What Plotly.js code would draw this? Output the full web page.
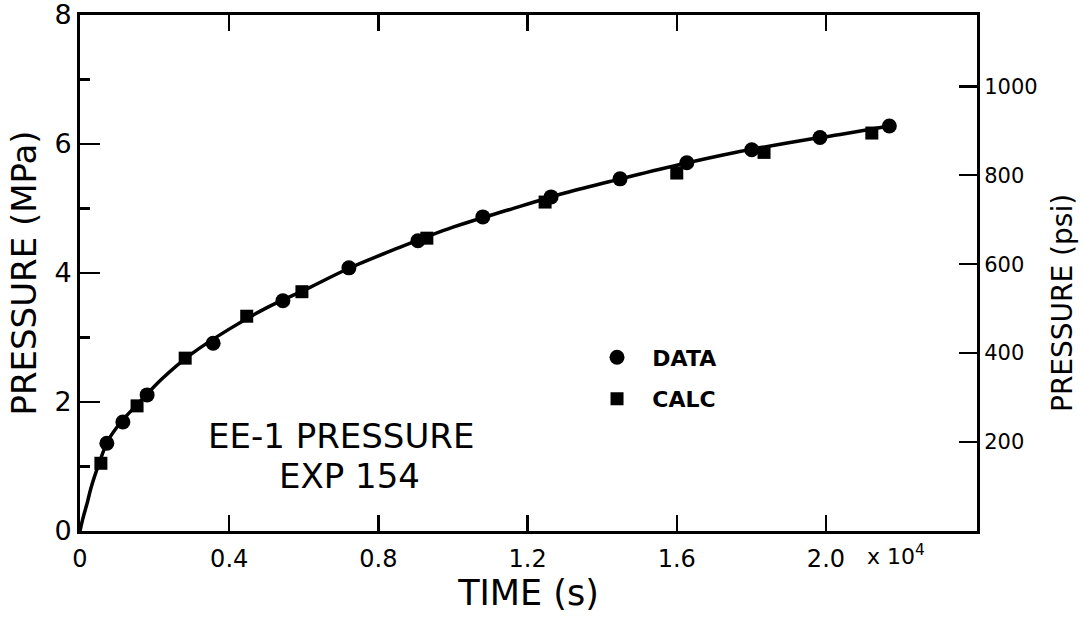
<!DOCTYPE html>
<html>
<head>
<meta charset="utf-8">
<script src="https://cdn.plot.ly/plotly-3.0.1.min.js"></script>
<style>html,body{margin:0;padding:0;background:#fff;}#chart{width:1084px;height:617px;}</style>
</head>
<body>
<div id="chart"></div>
<script>
// Fitted curve (time in 10^4 s, pressure in MPa)
const curveTime = [0, 0.008, 0.02, 0.03, 0.05, 0.075, 0.11, 0.16, 0.22, 0.3, 0.4, 0.5, 0.6, 0.72, 0.85, 1.0, 1.15, 1.3, 1.45, 1.6, 1.75, 1.9, 2.05, 2.17];
const curvePressure = [0, 0.2, 0.45, 0.68, 1.03, 1.4, 1.69, 2.0, 2.36, 2.75, 3.13, 3.46, 3.73, 4.07, 4.38, 4.71, 4.98, 5.24, 5.46, 5.67, 5.86, 6.02, 6.16, 6.28];
// DATA points
const dataTime = [0.072, 0.115, 0.18, 0.357, 0.544, 0.721, 0.906, 1.080, 1.263, 1.448, 1.627, 1.801, 1.984, 2.170];
const dataPressure = [1.36, 1.69, 2.11, 2.91, 3.57, 4.08, 4.50, 4.87, 5.18, 5.46, 5.71, 5.91, 6.10, 6.28];
// CALC points
const calcTime = [0.056, 0.153, 0.282, 0.447, 0.595, 0.930, 1.247, 1.600, 1.834, 2.123];
const calcPressure = [1.05, 1.94, 2.68, 3.33, 3.71, 4.54, 5.10, 5.55, 5.87, 6.17];
// Tick labels
const xTicks = [0, 0.4, 0.8, 1.2, 1.6, 2.0];
const xTickText = ['0', '0.4', '0.8', '1.2', '1.6', '2.0'];
const yTicks = [0, 2, 4, 6, 8];
const psiTicks = [200, 400, 600, 800, 1000];
const MPA_TO_PSI = 145.038;
const X_MAX = 2.405;

const FONT = 'DejaVu Sans, sans-serif';

const traces = [
  {x: curveTime, y: curvePressure, mode: 'lines', line: {color: '#000', width: 3.5, shape: 'spline'}, showlegend: false, hoverinfo: 'skip'},
  {x: dataTime, y: dataPressure, mode: 'markers', name: '&nbsp;&nbsp;DATA', legendgroup: 'a',
   marker: {symbol: 'circle', size: 15, color: '#000'}},
  {x: calcTime, y: calcPressure, mode: 'markers', name: '&nbsp;&nbsp;CALC', legendgroup: 'b',
   marker: {symbol: 'square', size: 13, color: '#000'}},
  {x: [null], y: [null], yaxis: 'y2', mode: 'markers', showlegend: false, hoverinfo: 'skip'},
  {x: [null], y: [null], xaxis: 'x2', mode: 'markers', showlegend: false, hoverinfo: 'skip'}
];

const layout = {
  width: 1084, height: 617,
  margin: {l: 80, r: 107, t: 15, b: 86},
  paper_bgcolor: '#fff', plot_bgcolor: '#fff',
  font: {family: FONT, color: '#000'},
  showlegend: true,
  legend: {x: 0.5764, y: 0.377, xanchor: 'left', yanchor: 'top', bgcolor: 'rgba(0,0,0,0)',
           font: {family: FONT, size: 22, color: '#000', weight: 'bold'}, tracegroupgap: 10, traceorder: 'grouped'},
  xaxis: {
    range: [0, X_MAX], tickmode: 'array', tickvals: xTicks, ticktext: xTickText,
    showline: true, linecolor: '#000', linewidth: 3,
    ticks: 'inside', ticklen: 16, tickwidth: 2.5, tickcolor: '#000',
    showgrid: false, zeroline: false,
    tickfont: {family: FONT, size: 24, color: '#000'}, ticklabelstandoff: 4,
    title: {text: 'TIME (s)', font: {family: FONT, size: 35, color: '#000'}, standoff: 8}
  },
  xaxis2: {
    overlaying: 'x', side: 'top', anchor: 'y', range: [0, X_MAX], tickmode: 'array', tickvals: xTicks.slice(1),
    showticklabels: false, showline: true, linecolor: '#000', linewidth: 3,
    ticks: 'inside', ticklen: 16, tickwidth: 2.5, tickcolor: '#000',
    showgrid: false, zeroline: false
  },
  yaxis: {
    range: [0, 8], tickmode: 'array', tickvals: yTicks,
    showline: true, linecolor: '#000', linewidth: 3,
    ticks: 'inside', ticklen: 20, tickwidth: 2.5, tickcolor: '#000',
    minor: {tickmode: 'linear', tick0: 0, dtick: 1, ticks: 'inside', ticklen: 10, tickwidth: 2.5, tickcolor: '#000', showgrid: false},
    showgrid: false, zeroline: false, ticklabeloverflow: 'allow',
    tickfont: {family: FONT, size: 27, color: '#000'},
    title: {text: 'PRESSURE (MPa)', font: {family: FONT, size: 34, color: '#000'}, standoff: 8}
  },
  yaxis2: {
    overlaying: 'y', side: 'right', range: [0, 8 * MPA_TO_PSI], tickmode: 'array', tickvals: psiTicks,
    showline: true, linecolor: '#000', linewidth: 3,
    ticks: 'inside', ticklen: 18, tickwidth: 2.5, tickcolor: '#000',
    showgrid: false, zeroline: false,
    tickfont: {family: FONT, size: 21, color: '#000'}
  },
  annotations: [
    {text: 'EE-1 PRESSURE', xref: 'paper', yref: 'paper', x: 0.291, y: 0.184, showarrow: false,
     xanchor: 'center', yanchor: 'middle', font: {family: FONT, size: 34, color: '#000'}},
    {text: 'EXP 154', xref: 'paper', yref: 'paper', x: 0.2999, y: 0.1066, showarrow: false,
     xanchor: 'center', yanchor: 'middle', font: {family: FONT, size: 34, color: '#000'}},
    {text: 'x 10<sup>4</sup>', xref: 'paper', yref: 'paper', x: 0.9097, y: -0.046, showarrow: false,
     xanchor: 'center', yanchor: 'middle', font: {family: FONT, size: 22, color: '#000'}},
    {text: 'PRESSURE (psi)', xref: 'paper', yref: 'paper', x: 1.0959, y: 0.4419, showarrow: false,
     textangle: -90, xanchor: 'center', yanchor: 'middle', font: {family: FONT, size: 28, color: '#000'}}
  ]
};

Plotly.newPlot('chart', traces, layout, {displayModeBar: false, staticPlot: true});
</script>
</body>
</html>
